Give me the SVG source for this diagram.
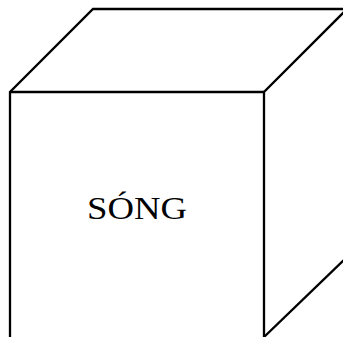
<svg xmlns="http://www.w3.org/2000/svg" width="343" height="337" viewBox="0 0 343 337">
<style>
.edge{fill:none;stroke:#000;stroke-width:2.3;stroke-linejoin:miter}
.lbl{font-family:"Liberation Serif","Times New Roman",serif;font-size:31px;fill:#000}
</style>
<rect width="343" height="337" fill="#fff"/>
<g id="cube">
<polyline class="edge" points="10,340 10,92 93,9 350,9"/>
<line class="edge" x1="10" y1="92" x2="264" y2="92"/>
<polyline class="edge" points="264,340 264,92 346,10"/>
<line class="edge" x1="264" y1="337" x2="346" y2="258"/>
</g>
<g id="label">
<text class="lbl" x="87" y="219" textLength="100" lengthAdjust="spacingAndGlyphs">SÓNG</text>
</g>
</svg>
